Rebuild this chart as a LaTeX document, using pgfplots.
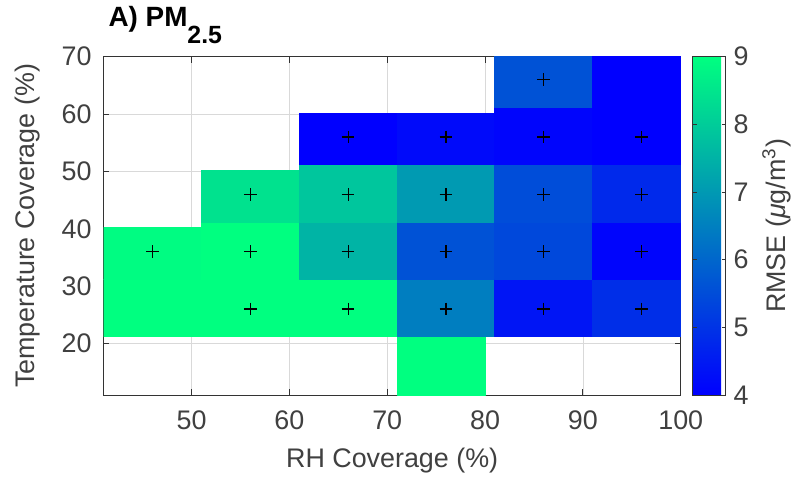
\documentclass[border=0pt]{standalone}
\usepackage{pgfplots}
\pgfplotsset{compat=1.18}
\usepgfplotslibrary{patchplots}
\usepackage{fontspec}
\setmainfont{Liberation Sans}
\definecolor{axgray}{gray}{0.2}
\definecolor{txtgray}{gray}{0.25}
\newcommand{\fs}{\fontsize{13.5}{16}\selectfont}
\begin{document}
\begin{tikzpicture}
\begin{axis}[
  scale only axis,
  width=290pt, height=170pt,
  xmin=41, xmax=100, ymin=11, ymax=70,
  xtick={50,60,...,100}, ytick={20,30,...,70},
  /pgf/number format/assume math mode=true,
  tick align=inside,
  major tick length=3pt,
  xtick pos=both, ytick pos=both,
  grid=major,
  major grid style={gray!30, line width=0.4pt},
  axis line style={axgray, line width=0.5pt},
  tick style={axgray, line width=0.5pt},
  ticklabel style={text=txtgray, font=\fs},
  xticklabel style={yshift=-4.5pt},
  yticklabel style={xshift=-2.5pt},
  xlabel={RH Coverage (\%)},
  ylabel={Temperature Coverage (\%)},
  label style={text=txtgray, font=\fs},
  xlabel style={yshift=-2pt},
  ylabel style={yshift=4pt},
  title={\textbf{A) PM\raisebox{-8.5pt}{\fontsize{12.5}{14}\selectfont\bfseries 2.5}}},
  title style={at={(0,1)}, anchor=base west, yshift=9pt, xshift=-1pt, text=black, font=\fontsize{14}{16}\selectfont},
  colormap={bg}{rgb255=(0,0,255) rgb255=(0,255,128)},
  point meta min=4, point meta max=9,
  colorbar,
  colorbar style={
    width=16.5pt,
    at={(parent axis.north east)}, anchor=north west, xshift=-2.5pt,
    ytick={4,5,6,7,8,9},
    ylabel={RMSE (\textit{μ}g/m\textsuperscript{3})},
    ylabel style={text=txtgray, font=\fs},
    yticklabel style={text=txtgray, font=\fs, xshift=0.5pt},
    /pgf/number format/assume math mode=true,
    axis line style={axgray, line width=0.5pt},
    tick style={axgray, line width=0.5pt},
    major tick length=2pt,
  },
]
\addplot[patch, patch type=rectangle, shader=flat, point meta=explicit]
table[meta=c]{
x y c
41 21.2 9
51 21.2 9
51 31.2 9
41 31.2 9
41 31.2 8.9
51 31.2 8.9
51 40.2 8.9
41 40.2 8.9
51 21.2 9
61 21.2 9
61 31.2 9
51 31.2 9
51 31.2 9
61 31.2 9
61 41.2 9
51 41.2 9
51 41.2 8.4
61 41.2 8.4
61 50.2 8.4
51 50.2 8.4
61 21.2 9
71 21.2 9
71 31.2 9
61 31.2 9
61 31.2 7.5
71 31.2 7.5
71 41.2 7.5
61 41.2 7.5
61 41.2 7.85
71 41.2 7.85
71 51.2 7.85
61 51.2 7.85
61 51.2 4.0
71 51.2 4.0
71 60.2 4.0
61 60.2 4.0
71 11 9
80 11 9
80 21.2 9
71 21.2 9
71 21.2 6.45
81 21.2 6.45
81 31.2 6.45
71 31.2 6.45
71 31.2 5.6
81 31.2 5.6
81 41.2 5.6
71 41.2 5.6
71 41.2 7.0
81 41.2 7.0
81 51.2 7.0
71 51.2 7.0
71 51.2 4.2
81 51.2 4.2
81 60.2 4.2
71 60.2 4.2
81 21.2 4.4
91 21.2 4.4
91 31.2 4.4
81 31.2 4.4
81 31.2 5.4
91 31.2 5.4
91 41.2 5.4
81 41.2 5.4
81 41.2 5.5
91 41.2 5.5
91 51.2 5.5
81 51.2 5.5
81 51.2 4.1
91 51.2 4.1
91 61.2 4.1
81 61.2 4.1
81 61.2 5.6
91 61.2 5.6
91 70 5.6
81 70 5.6
91 21.2 4.9
100 21.2 4.9
100 31.2 4.9
91 31.2 4.9
91 31.2 4.1
100 31.2 4.1
100 41.2 4.1
91 41.2 4.1
91 41.2 4.8
100 41.2 4.8
100 51.2 4.8
91 51.2 4.8
91 51.2 4.0
100 51.2 4.0
100 61.2 4.0
91 61.2 4.0
91 61.2 4.0
100 61.2 4.0
100 70 4.0
91 70 4.0
};
\addplot[only marks, mark=+, mark size=3.2pt, black, line width=0.6pt]
coordinates {
(46,36)
(56,26) (56,36) (56,46)
(66,26) (66,36) (66,46) (66,56)
(76,26) (76,36) (76,46) (76,56)
(86,26) (86,36) (86,46) (86,56) (86,66)
(96,26) (96,36) (96,46) (96,56)
};
\end{axis}
\path[use as bounding box] (-52pt,-41pt) rectangle (347pt,198.5pt);
\end{tikzpicture}
\end{document}
